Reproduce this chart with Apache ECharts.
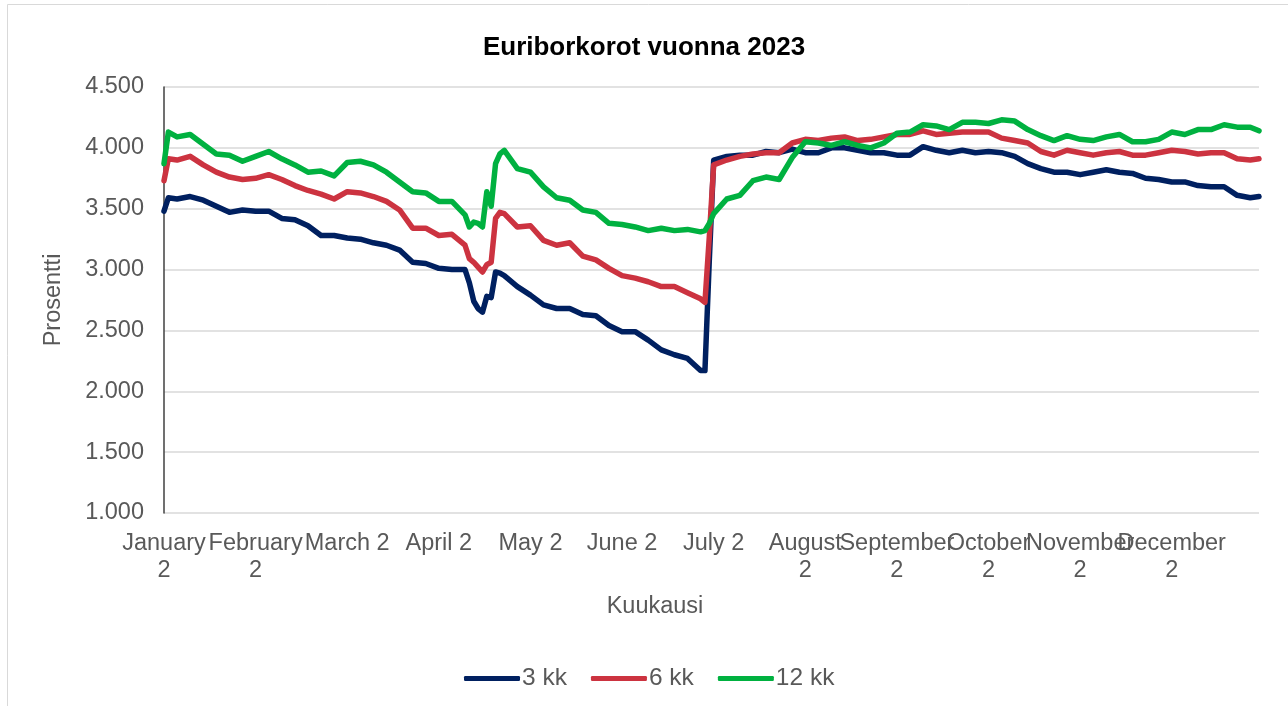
<!DOCTYPE html>
<html>
<head>
<meta charset="utf-8">
<script src="https://cdn.jsdelivr.net/npm/echarts@6/dist/echarts.min.js"></script>
<style>
  html, body { margin: 0; padding: 0; background: #fff; }
  #chart { width: 1288px; height: 706px; }
</style>
</head>
<body>
<div id="chart"></div>
<script>
// business-day index of each reading (0 = first trading day of 2023)
const days = [
  0, 1, 3, 6, 9, 12, 15, 18, 21, 24, 27, 30, 33, 36, 39, 42, 45, 48,
  51, 54, 57, 60, 63, 66, 69, 70, 71, 72, 73, 74, 75, 76, 77, 78, 81, 84, 87, 90, 93, 96,
  99, 102, 105, 108, 111, 114, 117, 120, 123, 124, 125, 126, 129, 132, 135, 138, 141, 144,
  147, 150, 153, 156, 159, 162, 165, 168, 171, 174, 177, 180, 183, 186, 189, 192, 195, 198,
  201, 204, 207, 210, 213, 216, 219, 222, 225, 228, 231, 234, 237, 240, 243, 246, 249, 251
]

const rate3m = [
  3.48, 3.59, 3.58, 3.60, 3.57, 3.52, 3.47, 3.49, 3.48, 3.48, 3.42, 3.41, 3.36, 3.28, 3.28, 3.26, 3.25, 3.22,
  3.20, 3.16, 3.06, 3.05, 3.01, 3.00, 3.00, 2.89, 2.74, 2.68, 2.65, 2.78, 2.77, 2.98, 2.97, 2.95, 2.86, 2.79, 2.71, 2.68, 2.68, 2.63,
  2.62, 2.54, 2.49, 2.49, 2.42, 2.34, 2.30, 2.27, 2.17, 2.17, 3.08, 3.90, 3.93, 3.94, 3.94, 3.97, 3.96, 3.99,
  3.96, 3.96, 4.00, 4.00, 3.98, 3.96, 3.96, 3.94, 3.94, 4.01, 3.98, 3.96, 3.98, 3.96, 3.97, 3.96, 3.93, 3.87,
  3.83, 3.80, 3.80, 3.78, 3.80, 3.82, 3.80, 3.79, 3.75, 3.74, 3.72, 3.72, 3.69, 3.68, 3.68, 3.61, 3.59, 3.60
]

const rate6m = [
  3.73, 3.91, 3.90, 3.93, 3.86, 3.80, 3.76, 3.74, 3.75, 3.78, 3.74, 3.69, 3.65, 3.62, 3.58, 3.64, 3.63, 3.60,
  3.56, 3.49, 3.34, 3.34, 3.28, 3.29, 3.20, 3.09, 3.06, 3.02, 2.98, 3.04, 3.06, 3.42, 3.47, 3.46, 3.35, 3.36, 3.24, 3.20, 3.22, 3.11,
  3.08, 3.01, 2.95, 2.93, 2.90, 2.86, 2.86, 2.81, 2.76, 2.73, 3.27, 3.86, 3.90, 3.93, 3.95, 3.96, 3.96, 4.04,
  4.07, 4.06, 4.08, 4.09, 4.06, 4.07, 4.09, 4.11, 4.11, 4.14, 4.11, 4.12, 4.13, 4.13, 4.13, 4.08, 4.06, 4.04,
  3.97, 3.94, 3.98, 3.96, 3.94, 3.96, 3.97, 3.94, 3.94, 3.96, 3.98, 3.97, 3.95, 3.96, 3.96, 3.91, 3.90, 3.91
]

const rate12m = [
  3.87, 4.13, 4.09, 4.11, 4.03, 3.95, 3.94, 3.89, 3.93, 3.97, 3.91, 3.86, 3.80, 3.81, 3.77, 3.88, 3.89, 3.86,
  3.80, 3.72, 3.64, 3.63, 3.56, 3.56, 3.45, 3.35, 3.39, 3.38, 3.35, 3.64, 3.52, 3.87, 3.95, 3.98, 3.83, 3.80, 3.68, 3.59, 3.57, 3.49,
  3.47, 3.38, 3.37, 3.35, 3.32, 3.34, 3.32, 3.33, 3.31, 3.32, 3.38, 3.46, 3.58, 3.61, 3.73, 3.76, 3.74, 3.92,
  4.05, 4.04, 4.02, 4.05, 4.02, 4.00, 4.04, 4.12, 4.13, 4.19, 4.18, 4.15, 4.21, 4.21, 4.20, 4.23, 4.22, 4.15,
  4.10, 4.06, 4.10, 4.07, 4.06, 4.09, 4.11, 4.05, 4.05, 4.07, 4.13, 4.11, 4.15, 4.15, 4.19, 4.17, 4.17, 4.14
]

const seriesNames = ['3 kk', '6 kk', '12 kk']
const monthLabels = [
  'January\n2', 'February\n2', 'March 2', 'April 2', 'May 2', 'June 2',
  'July 2', 'August\n2', 'September\n2', 'October\n2', 'November\n2', 'December\n2'
]
const yTickLabels = ['1.000', '1.500', '2.000', '2.500', '3.000', '3.500', '4.000', '4.500']

const FONT = '"Liberation Sans", Arial, sans-serif'
const TEXT_COLOR = '#595959'
const COLORS = ['#002060', '#cc3340', '#00b140']
const LABEL_STEP = 21

const chart = echarts.init(document.getElementById('chart'), null, { renderer: 'canvas' })

const series = [rate3m, rate6m, rate12m].map((values, k) => ({
  name: seriesNames[k],
  type: 'line',
  symbol: 'none',
  showSymbol: false,
  smooth: false,
  data: days.map((d, i) => [d, values[i]]),
  lineStyle: { width: 5.5, color: COLORS[k], join: 'round', cap: 'round' },
  itemStyle: { color: COLORS[k] }
}))

chart.setOption({
  backgroundColor: '#ffffff',
  animation: false,
  textStyle: { fontFamily: FONT },
  graphic: [{
    type: 'rect',
    shape: { x: 7.5, y: 4.5, width: 1300, height: 720 },
    style: { fill: 'none', stroke: '#d9d9d9', lineWidth: 1 },
    silent: true
  }],
  title: {
    text: 'Euriborkorot vuonna 2023',
    left: 'center',
    top: 30,
    textStyle: { fontSize: 26, fontWeight: 'bold', color: '#000000', fontFamily: FONT }
  },
  legend: {
    data: seriesNames,
    left: 459,
    top: 661,
    icon: 'roundRect',
    itemWidth: 56,
    itemHeight: 5,
    itemGap: 24,
    textStyle: { fontSize: 24.5, color: TEXT_COLOR, fontFamily: FONT, padding: [0, 0, 0, -3] }
  },
  grid: { left: 164, right: 29, top: 87, bottom: 193, containLabel: false },
  xAxis: {
    type: 'value',
    min: 0,
    max: days[days.length - 1],
    interval: LABEL_STEP,
    name: 'Kuukausi',
    nameLocation: 'middle',
    nameGap: 82,
    nameTextStyle: { fontSize: 23.5, color: TEXT_COLOR, fontFamily: FONT, padding: [0, 113, 0, 0] },
    axisLine: { show: false },
    axisTick: { show: false },
    splitLine: { show: false },
    axisLabel: {
      margin: 17,
      fontSize: 23.5,
      lineHeight: 27,
      color: TEXT_COLOR,
      fontFamily: FONT,
      showMaxLabel: true,
      formatter: v => (v % LABEL_STEP === 0 ? (monthLabels[v / LABEL_STEP] || '') : '')
    }
  },
  yAxis: {
    type: 'value',
    min: 1,
    max: 4.5,
    interval: 0.5,
    name: 'Prosentti',
    nameLocation: 'middle',
    nameGap: 98,
    nameTextStyle: { fontSize: 23.5, color: TEXT_COLOR, fontFamily: FONT },
    axisLine: { show: true, lineStyle: { color: '#404040', width: 1.5 } },
    axisTick: { show: false },
    axisLabel: {
      margin: 20,
      fontSize: 23.5,
      color: TEXT_COLOR,
      fontFamily: FONT,
      formatter: v => yTickLabels[Math.round((v - 1) / 0.5)]
    },
    splitLine: { lineStyle: { color: '#d9d9d9', width: 1.5 } }
  },
  series: series
})
</script>
</body>
</html>
